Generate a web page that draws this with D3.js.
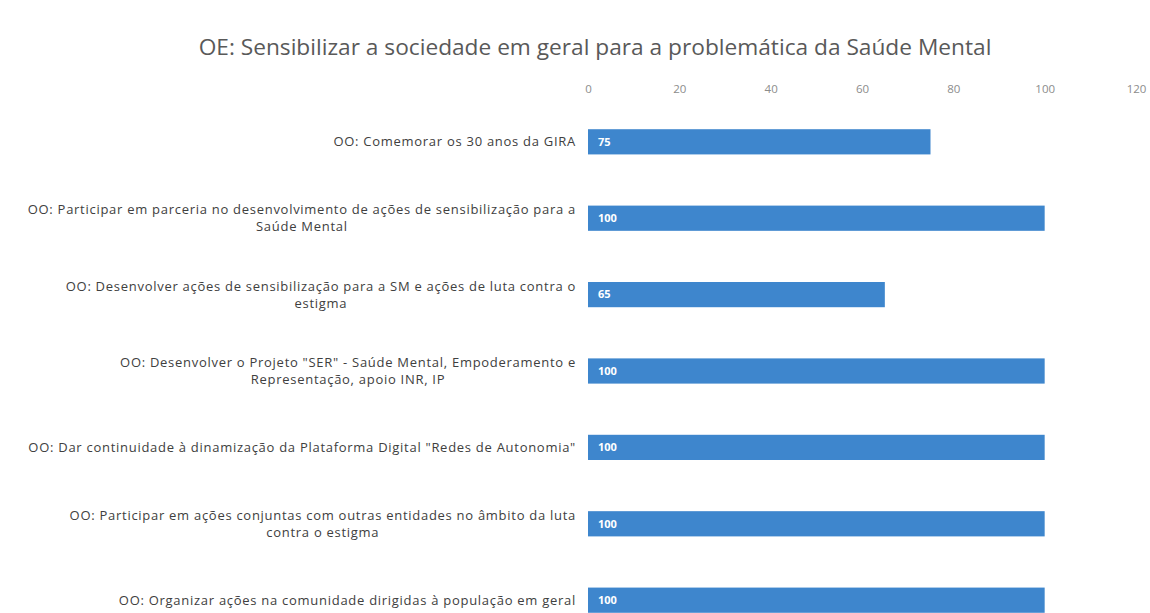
<!DOCTYPE html>
<html>
<head>
    <meta charset="UTF-8" />
    <title>OE: Sensibilizar a sociedade</title>
    <script src="https://cdnjs.cloudflare.com/ajax/libs/d3/7.8.5/d3.min.js"></script>
    <style>
        html, body { margin: 0; padding: 0; background: #fff; }
        svg { display: block; }
        .title { font-family: "Open Sans", sans-serif; font-size: 22.7px; fill: #595959; }
        .tick-lbl { font-family: "Open Sans", sans-serif; font-size: 11.5px; fill: #8c8c8c; }
        .cat { font-family: "Open Sans", sans-serif; font-size: 13px; letter-spacing: 0.72px; fill: #404040; }
        .val { font-family: "Open Sans", sans-serif; font-size: 11px; font-weight: bold; fill: #fff; }
    </style>
</head>
<body>
<div id="chart"></div>
<script>
    // data
    var categories = [
        "OO: Comemorar os 30 anos da GIRA",
        "OO: Participar em parceria no desenvolvimento de ações de sensibilização para a|Saúde Mental",
        "OO: Desenvolver ações de sensibilização para a SM e ações de luta contra o|estigma",
        "OO: Desenvolver o Projeto \"SER\" - Saúde Mental, Empoderamento e|Representação, apoio INR, IP",
        "OO: Dar continuidade à dinamização da Plataforma Digital \"Redes de Autonomia\"",
        "OO: Participar em ações conjuntas com outras entidades no âmbito da luta|contra o estigma",
        "OO: Organizar ações na comunidade dirigidas à população em geral"
    ];
    var values = [75, 100, 65, 100, 100, 100, 100];
    var tickValues = [0, 20, 40, 60, 80, 100, 120];
    var title = "OE: Sensibilizar a sociedade em geral para a problemática da Saúde Mental";

    var W = 1150, H = 613;
    var svg = d3.select("#chart").append("svg").attr("width", W).attr("height", H);

    var x = d3.scaleLinear().domain([0, 120]).range([588, 1136]);
    var y = d3.scaleBand().domain(d3.range(categories.length)).range([104, 638]).paddingInner(0.67).paddingOuter(0.33);

    svg.append("text").attr("class", "title")
        .attr("x", 595).attr("y", 55).attr("text-anchor", "middle")
        .text(title);

    // top axis, labels only
    var axis = d3.axisTop(x).tickValues(tickValues).tickSize(0).tickPadding(0);
    var ag = svg.append("g").attr("transform", "translate(0,93)").call(axis);
    ag.select(".domain").remove();
    ag.selectAll("text").attr("class", "tick-lbl").attr("fill", null).attr("font-size", null).attr("font-family", null);

    var bars = svg.append("g").selectAll("g").data(values).enter().append("g");
    bars.append("rect")
        .attr("x", x(0))
        .attr("y", function (d, i) { return y(i); })
        .attr("width", function (d) { return x(d) - x(0); })
        .attr("height", y.bandwidth())
        .attr("fill", "#3e86cd");
    bars.append("text").attr("class", "val")
        .attr("x", x(0) + 10)
        .attr("y", function (d, i) { return y(i) + y.bandwidth() / 2; })
        .attr("dy", "0.35em")
        .text(function (d) { return d; });

    // category labels: block right-aligned, lines centred within the block
    var labelRight = 576, lineH = 17;
    categories.forEach(function (c, i) {
        var lines = c.split("|");
        var cy = y(i) + y.bandwidth() / 2;
        var g = svg.append("g");
        var texts = lines.map(function (l, k) {
            return g.append("text").attr("class", "cat")
                .attr("y", cy + (k - (lines.length - 1) / 2) * lineH)
                .attr("dy", "0.35em")
                .text(l);
        });
        var wMax = d3.max(texts, function (t) { return t.node().getComputedTextLength(); });
        var mid = labelRight - wMax / 2;
        texts.forEach(function (t) { t.attr("x", mid).attr("text-anchor", "middle"); });
    });
</script>
</body>
</html>
